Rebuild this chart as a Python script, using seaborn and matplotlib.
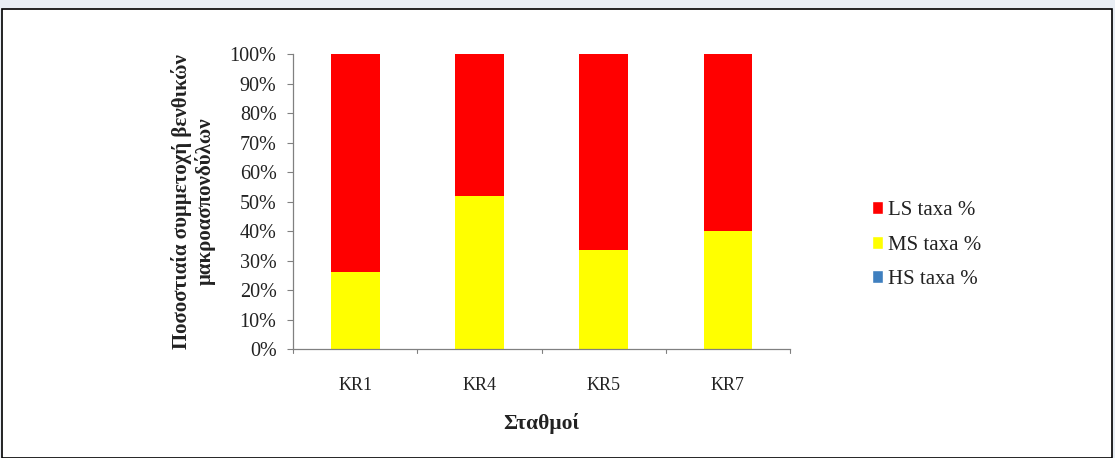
import numpy as np
import pandas as pd
import matplotlib
matplotlib.use("Agg")
import matplotlib.pyplot as plt
import seaborn as sns
from matplotlib.patches import Rectangle, Patch

# station percentages
stations = ["KR1", "KR4", "KR5", "KR7"]
hs_taxa = [0.0, 0.0, 0.0, 0.0]
ms_taxa = [26.0, 52.0, 33.5, 40.0]
ls_taxa = [74.0, 48.0, 66.5, 60.0]

df = pd.DataFrame({"station": stations, "HS": hs_taxa, "MS": ms_taxa, "LS": ls_taxa})
# cumulative heights for stacking
df["top_hs"] = df["HS"]
df["top_ms"] = df["HS"] + df["MS"]
df["top_ls"] = df["HS"] + df["MS"] + df["LS"]

sns.set_style("white")
plt.rcParams["font.family"] = ["Liberation Serif", "DejaVu Serif"]

fig = plt.figure(figsize=(11.15, 4.58), dpi=100)
fig.patch.set_facecolor("#e9eef4")
# white panel with black frame like the pasted excel chart
fig.add_artist(Rectangle((2 / 1115, 0), 1110 / 1115, 449 / 458, transform=fig.transFigure,
                         facecolor="white", edgecolor="black", linewidth=1.2, zorder=0))

ax = fig.add_axes([0.263, 0.238, 0.4455, 0.644])
ax.set_facecolor("none")

red, yellow, blue = "#ff0000", "#ffff00", "#3f7fbf"
sns.barplot(data=df, x="station", y="top_ls", color=red, width=0.39, ax=ax,
            saturation=1, linewidth=0)
sns.barplot(data=df, x="station", y="top_ms", color=yellow, width=0.39, ax=ax,
            saturation=1, linewidth=0)
sns.barplot(data=df, x="station", y="top_hs", color=blue, width=0.39, ax=ax,
            saturation=1, linewidth=0)

ax.set_ylim(0, 100)
ax.set_xlim(-0.5, 3.5)
ax.set_yticks(np.arange(0, 101, 10))
ax.set_yticklabels([f"{v}%" for v in range(0, 101, 10)], fontsize=14.5, color="#222222")
ax.tick_params(axis="x", labelsize=13, pad=20, length=0, labelcolor="#222222")
ax.tick_params(axis="y", direction="out", length=4, width=0.8, color="#808080", left=True, pad=8)
for s in ["top", "right"]:
    ax.spines[s].set_visible(False)
for s in ["left", "bottom"]:
    ax.spines[s].set_color("#808080")
    ax.spines[s].set_linewidth(0.9)
# category boundary ticks on x axis
for xb in np.arange(-0.5, 4.0, 1.0):
    ax.plot([xb, xb], [0, -1.5], color="#808080", lw=0.8, clip_on=False)

ax.set_xlabel("Σταθμοί", fontsize=15.5, fontweight="bold", labelpad=14, color="#222222")
ax.set_ylabel("Ποσοστιαία συμμετοχή βενθικών\nμακροασπονδύλων", fontsize=15,
              fontweight="bold", labelpad=10, linespacing=1.15, color="#222222")

handles = [Patch(facecolor=red, label="LS taxa %"),
           Patch(facecolor=yellow, label="MS taxa %"),
           Patch(facecolor=blue, label="HS taxa %")]
fig.legend(handles=handles, loc="center left", bbox_to_anchor=(0.765, 0.465),
           frameon=False, fontsize=15, handlelength=0.55, handleheight=0.6,
           handletextpad=0.25, labelspacing=0.75, labelcolor="#222222")

fig.savefig("out.png", dpi=100)
